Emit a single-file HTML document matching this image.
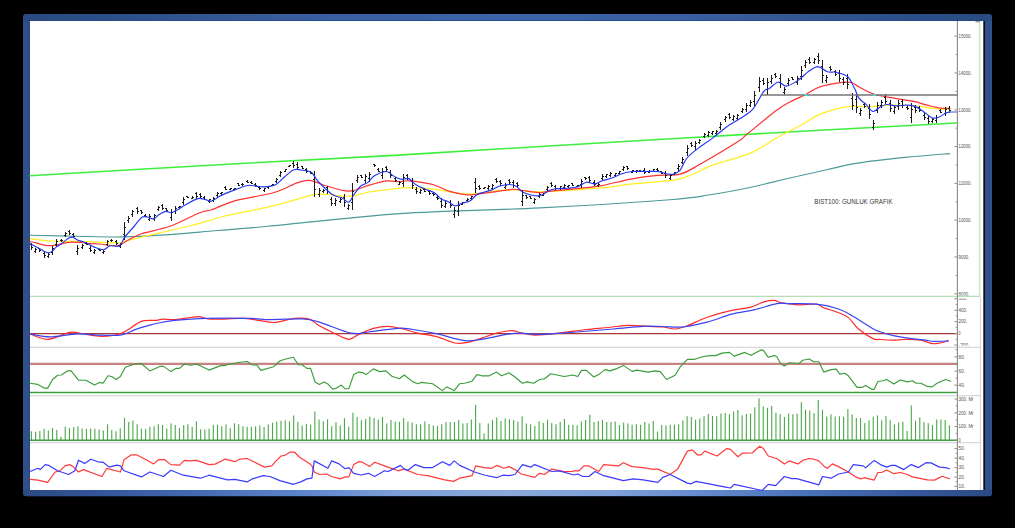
<!DOCTYPE html><html><head><meta charset="utf-8"><style>html,body{margin:0;padding:0;background:#000;width:1015px;height:528px;overflow:hidden}svg{display:block}text{font-family:"Liberation Sans",sans-serif}</style></head><body>
<svg width="1015" height="528" viewBox="0 0 1015 528">
<defs>
<linearGradient id="gt" gradientUnits="userSpaceOnUse" x1="23" x2="992" y1="0" y2="0"><stop offset="0" stop-color="#2b4a82"/><stop offset="0.08" stop-color="#2c4e86"/><stop offset="0.286" stop-color="#385e9e"/><stop offset="0.5" stop-color="#3d64a8"/><stop offset="0.714" stop-color="#385e9e"/><stop offset="0.92" stop-color="#2c4e86"/><stop offset="1" stop-color="#2b4a82"/></linearGradient>
<linearGradient id="gb" gradientUnits="userSpaceOnUse" x1="23" x2="992" y1="0" y2="0"><stop offset="0" stop-color="#2b4a82"/><stop offset="0.08" stop-color="#34569a"/><stop offset="0.183" stop-color="#446cb4"/><stop offset="0.286" stop-color="#5c86cc"/><stop offset="0.39" stop-color="#7ea0d8"/><stop offset="0.5" stop-color="#8aa8da"/><stop offset="0.61" stop-color="#7ea0d8"/><stop offset="0.714" stop-color="#6088cc"/><stop offset="0.817" stop-color="#4670b8"/><stop offset="0.92" stop-color="#36589a"/><stop offset="1" stop-color="#2b4a82"/></linearGradient>
</defs>
<clipPath id="fr"><rect x="23" y="14" width="969" height="482.3" rx="3.5"/></clipPath>
<rect x="23" y="14" width="969" height="482.3" rx="3.5" fill="#2f5088"/>
<g clip-path="url(#fr)"><rect x="23" y="14" width="969" height="7" fill="url(#gt)"/><rect x="23" y="489.8" width="969" height="6.5" fill="url(#gb)"/></g>
<rect x="29" y="20" width="956" height="1" fill="#24468a" opacity="0.8"/>
<rect x="29" y="21" width="1" height="469" fill="#24468a" opacity="0.8"/>
<rect x="30" y="21" width="953.8" height="469" fill="#fff"/>
<rect x="983.4" y="21" width="1.4" height="469" fill="#000"/>
<line x1="30" y1="296.4" x2="980" y2="296.4" stroke="#b4e0b4" stroke-width="1.2"/>
<line x1="979.7" y1="21" x2="979.7" y2="296.4" stroke="#c4eac4" stroke-width="1.5"/>
<rect x="975.5" y="21" width="4.5" height="1.3" fill="#999"/>
<line x1="30" y1="347.4" x2="980.4" y2="347.4" stroke="#d8d8d8" stroke-width="1.2"/>
<line x1="30" y1="395.6" x2="980.4" y2="395.6" stroke="#d8d8d8" stroke-width="1.2"/>
<line x1="30" y1="442.6" x2="980.4" y2="442.6" stroke="#d8d8d8" stroke-width="1.2"/>
<line x1="980.4" y1="297" x2="980.4" y2="490" stroke="#d8d8d8" stroke-width="1.2"/>
<line x1="957.4" y1="21" x2="957.4" y2="490" stroke="#888" stroke-width="1.1"/>
<polyline points="30.0,175.7 140.0,169.3 250.0,163.0 390.0,155.6 540.0,146.5 680.0,138.2 820.0,130.2 956.8,123.0" fill="none" stroke="#3cf03c" stroke-width="1.6" stroke-linejoin="round" stroke-linecap="round" />
<path d="M30.4,235.3C37.9,235.5 59.9,235.9 75.3,236.2C90.7,236.5 106.8,237.2 122.6,236.9C138.4,236.6 154.1,235.7 169.9,234.6C185.7,233.5 200.8,231.9 217.2,230.5C233.5,229.1 237.5,229.1 268.0,226.3C298.5,223.5 354.7,216.7 400.0,213.6C445.3,210.5 495.0,210.2 540.0,207.9C585.0,205.6 641.7,201.9 670.0,199.7C698.3,197.5 696.5,196.9 710.0,194.8C723.5,192.7 737.7,190.0 751.0,187.2C764.3,184.4 777.5,180.9 790.0,178.0C802.5,175.1 814.8,172.5 826.0,170.0C837.2,167.5 844.4,165.2 857.5,163.1C870.6,161.0 889.5,159.0 904.9,157.4C920.3,155.8 942.2,154.2 949.7,153.6" fill="none" stroke="#4d9a9a" stroke-width="1.15" stroke-linecap="round"/>
<path d="M30.4,238.6C33.9,239.0 42.2,240.5 51.6,241.0C61.0,241.5 76.0,241.4 87.1,241.7C98.1,242.0 111.2,243.0 117.9,242.8C124.6,242.6 122.6,241.6 127.3,240.5C132.0,239.4 135.6,238.5 146.2,236.0C156.8,233.5 177.9,228.8 191.1,225.5C204.3,222.2 213.7,218.8 225.2,216.0C236.7,213.2 250.2,211.0 260.0,208.8C269.8,206.7 275.2,205.4 284.1,203.1C293.0,200.8 306.0,196.3 313.1,194.9C320.2,193.5 320.7,194.3 326.7,194.5C332.7,194.7 341.8,196.6 348.9,196.2C356.0,195.8 362.4,193.2 369.3,192.0C376.2,190.8 383.1,190.0 390.0,189.3C396.9,188.6 402.6,187.5 410.5,187.6C418.4,187.7 429.8,188.8 437.7,189.7C445.6,190.6 451.9,192.4 458.2,193.1C464.4,193.8 466.7,194.5 475.2,193.9C483.7,193.3 500.2,190.1 509.3,189.7C518.4,189.3 523.7,191.3 530.0,191.6C536.3,191.9 535.6,192.2 547.0,191.6C558.4,191.0 584.0,189.5 598.2,188.2C612.4,186.9 618.7,185.5 632.3,183.9C645.9,182.3 666.6,181.9 680.0,178.8C693.4,175.7 700.7,169.4 712.6,165.1C724.5,160.8 741.1,157.0 751.2,152.8C761.3,148.6 766.6,143.6 773.0,140.0C779.4,136.4 784.8,133.4 789.3,131.0C793.8,128.6 794.4,128.7 800.0,125.7C805.6,122.7 814.4,116.4 822.7,113.2C831.0,110.0 842.4,107.5 850.0,106.4C857.6,105.3 861.4,107.0 868.2,106.8C875.0,106.6 883.3,105.3 890.9,105.2C898.5,105.1 906.0,105.3 913.6,105.9C921.2,106.5 930.3,108.0 936.4,108.6C942.5,109.2 947.7,109.2 950.0,109.3" fill="none" stroke="#ffee22" stroke-width="1.25" stroke-linecap="round"/>
<path d="M30.1,241.5C31.2,241.8 34.3,242.4 36.9,243.1C39.5,243.8 42.8,245.0 45.7,245.4C48.7,245.8 51.6,245.7 54.6,245.4C57.6,245.1 60.8,244.0 63.5,243.4C66.2,242.8 67.6,242.2 70.6,242.1C73.5,241.9 78.3,242.3 81.2,242.5C84.1,242.7 85.0,243.2 88.0,243.5C91.0,243.8 93.9,243.6 98.9,244.0C103.9,244.4 113.2,246.3 117.9,245.7C122.6,245.1 123.4,242.5 127.3,240.5C131.2,238.5 134.4,236.2 141.5,233.8C148.6,231.4 160.2,229.8 169.9,226.3C179.6,222.8 192.8,215.5 199.7,212.7C206.6,209.9 205.9,211.6 211.6,209.7C217.3,207.8 227.3,203.1 233.7,201.1C240.1,199.1 243.0,199.1 250.0,197.6C257.0,196.1 267.7,194.5 275.6,192.0C283.6,189.5 292.0,184.5 297.7,182.6C303.4,180.7 304.9,179.8 309.7,180.4C314.5,181.0 320.2,184.2 326.7,186.0C333.2,187.8 341.8,191.2 348.9,191.1C356.0,191.0 363.1,186.9 369.3,185.2C375.6,183.5 381.3,181.5 386.4,180.9C391.5,180.3 396.3,181.8 400.0,181.8C403.7,181.8 403.3,180.4 408.7,180.8C414.1,181.2 425.8,182.7 432.6,184.5C439.4,186.3 444.0,189.7 449.7,191.4C455.4,193.1 461.9,194.4 466.7,194.8C471.5,195.2 474.3,194.3 478.6,193.9C482.9,193.5 486.6,193.0 492.3,192.2C498.0,191.4 507.6,189.6 512.7,189.3C517.8,189.0 518.4,189.9 522.9,190.5C527.4,191.1 536.0,192.5 540.0,192.7C544.0,192.9 540.1,192.3 547.0,191.6C553.9,190.8 572.0,189.2 581.1,188.2C590.2,187.2 593.1,187.2 601.6,185.6C610.1,184.0 622.9,180.5 632.3,178.8C641.7,177.1 649.8,176.2 657.8,175.4C665.8,174.6 673.0,176.0 680.0,174.2C687.0,172.3 690.3,169.8 700.0,164.3C709.7,158.8 730.6,146.3 738.4,141.3C746.2,136.3 740.4,139.5 746.7,134.4C753.0,129.3 769.1,116.0 776.3,110.6C783.5,105.2 785.1,104.7 790.0,102.0C794.9,99.3 801.2,96.9 805.9,94.5C810.6,92.1 813.5,89.3 818.2,87.5C822.9,85.7 829.6,84.5 834.1,83.6C838.6,82.7 842.5,82.3 845.5,82.2C848.5,82.1 850.0,82.0 852.3,82.8C854.6,83.6 855.3,85.0 859.1,87.0C862.9,89.0 868.9,92.6 875.0,94.5C881.1,96.4 889.1,97.2 895.5,98.4C901.9,99.6 908.3,100.3 913.6,101.4C918.9,102.5 922.8,104.1 927.3,105.2C931.8,106.3 937.1,107.7 940.9,108.2C944.7,108.7 948.5,108.2 950.0,108.2" fill="none" stroke="#ff3030" stroke-width="1.2" stroke-linecap="round"/>
<path d="M31.50,243.0V250.0M30.00,244.5H31.50M31.50,247.5H33.00M35.50,248.0V253.0M34.00,251.5H35.50M35.50,249.5H37.00M39.50,248.0V252.0M38.00,248.5H39.50M39.50,250.5H41.00M44.50,251.0V258.0M43.00,253.5H44.50M44.50,255.5H46.00M48.50,253.0V258.0M47.00,256.5H48.50M48.50,254.5H50.00M52.50,246.0V255.0M51.00,252.5H52.50M52.50,248.5H54.00M56.50,239.0V247.0M55.00,244.5H56.50M56.50,241.5H58.00M61.50,239.0V242.0M60.00,240.5H61.50M61.50,240.5H63.00M65.50,232.0V237.0M64.00,235.5H65.50M65.50,233.5H67.00M69.50,230.0V235.0M68.00,231.5H69.50M69.50,233.5H71.00M73.50,233.0V238.0M72.00,234.5H73.50M73.50,236.5H75.00M77.50,245.0V255.0M76.00,251.5H77.50M77.50,248.5H79.00M82.50,244.0V249.0M81.00,247.5H82.50M82.50,245.5H84.00M86.50,242.0V245.0M85.00,243.5H86.50M86.50,244.5H88.00M90.50,246.0V252.0M89.00,248.5H90.50M90.50,250.5H92.00M94.50,249.0V254.0M93.00,252.5H94.50M94.50,250.5H96.00M99.50,249.0V251.0M98.00,249.5H99.50M99.50,250.5H101.00M103.50,250.0V254.0M102.00,252.5H103.50M103.50,251.5H105.00M107.50,240.0V246.0M106.00,244.5H107.50M107.50,241.5H109.00M111.50,239.0V242.0M110.00,240.5H111.50M111.50,240.5H113.00M116.50,240.0V245.0M115.00,241.5H116.50M116.50,243.5H118.00M120.50,243.0V248.0M119.00,246.5H120.50M120.50,244.5H122.00M124.50,222.0V240.0M123.00,234.5H124.50M124.50,227.5H126.00M128.50,216.0V223.0M127.00,220.5H128.50M128.50,218.5H130.00M132.50,210.0V217.0M131.00,214.5H132.50M132.50,211.5H134.00M137.50,207.0V214.0M136.00,208.5H137.50M137.50,211.5H139.00M141.50,210.0V214.0M140.00,210.5H141.50M141.50,212.5H143.00M145.50,214.0V217.0M144.00,215.5H145.50M145.50,216.5H147.00M149.50,214.0V221.0M148.00,219.5H149.50M149.50,216.5H151.00M154.50,214.0V221.0M153.00,218.5H154.50M154.50,215.5H156.00M158.50,206.0V211.0M157.00,209.5H158.50M158.50,207.5H160.00M162.50,204.0V210.0M161.00,205.5H162.50M162.50,208.5H164.00M166.50,208.0V211.0M165.00,208.5H166.50M166.50,210.5H168.00M171.50,209.0V221.0M170.00,217.5H171.50M171.50,212.5H173.00M175.50,206.0V214.0M174.00,211.5H175.50M175.50,208.5H177.00M179.50,206.0V208.0M178.00,207.5H179.50M179.50,206.5H181.00M183.50,197.0V205.0M182.00,202.5H183.50M183.50,199.5H185.00M187.50,196.0V198.0M186.00,196.5H187.50M187.50,197.5H189.00M192.50,196.0V199.0M191.00,198.5H192.50M192.50,197.5H194.00M196.50,192.0V199.0M195.00,193.5H196.50M196.50,196.5H198.00M200.50,193.0V198.0M199.00,194.5H200.50M200.50,196.5H202.00M204.50,196.0V200.0M203.00,197.5H204.50M204.50,199.5H206.00M209.50,199.0V203.0M208.00,201.5H209.50M209.50,199.5H211.00M213.50,197.0V202.0M212.00,200.5H213.50M213.50,198.5H215.00M217.50,192.0V198.0M216.00,195.5H217.50M217.50,193.5H219.00M221.50,192.0V195.0M220.00,193.5H221.50M221.50,192.5H223.00M225.50,186.0V190.0M224.00,187.5H225.50M225.50,189.5H227.00M230.50,188.0V190.0M229.00,189.5H230.50M230.50,188.5H232.00M234.50,188.0V190.0M233.00,189.5H234.50M234.50,188.5H236.00M238.50,183.0V186.0M237.00,183.5H238.50M238.50,185.5H240.00M242.50,183.0V186.0M241.00,184.5H242.50M242.50,184.5H244.00M247.50,180.0V183.0M246.00,181.5H247.50M247.50,182.5H249.00M251.50,181.0V184.0M250.00,182.5H251.50M251.50,183.5H253.00M255.50,183.0V187.0M254.00,184.5H255.50M255.50,185.5H257.00M259.50,186.0V190.0M258.00,187.5H259.50M259.50,188.5H261.00M264.50,188.0V192.0M263.00,190.5H264.50M264.50,188.5H266.00M268.50,186.0V189.0M267.00,187.5H268.50M268.50,186.5H270.00M272.50,184.0V186.0M271.00,185.5H272.50M272.50,184.5H274.00M276.50,178.0V183.0M275.00,181.5H276.50M276.50,179.5H278.00M280.50,171.0V177.0M279.00,175.5H280.50M280.50,172.5H282.00M285.50,169.0V172.0M284.00,171.5H285.50M285.50,169.5H287.00M289.50,165.0V167.0M288.00,166.5H289.50M289.50,165.5H291.00M293.50,161.0V168.0M292.00,163.5H293.50M293.50,165.5H295.00M297.50,162.0V170.0M296.00,164.5H297.50M297.50,167.5H299.00M302.50,166.0V169.0M301.00,166.5H302.50M302.50,168.5H304.00M306.50,168.0V173.0M305.00,169.5H306.50M306.50,171.5H308.00M310.50,171.0V174.0M309.00,171.5H310.50M310.50,173.5H312.00M314.50,171.0V197.0M313.00,179.5H314.50M314.50,189.5H316.00M319.50,188.0V197.0M318.00,194.5H319.50M319.50,190.5H321.00M323.50,189.0V193.0M322.00,191.5H323.50M323.50,190.5H325.00M327.50,186.0V194.0M326.00,187.5H327.50M327.50,191.5H329.00M331.50,197.0V206.0M330.00,199.5H331.50M331.50,203.5H333.00M335.50,198.0V206.0M334.00,203.5H335.50M335.50,200.5H337.00M340.50,198.0V203.0M339.00,201.5H340.50M340.50,199.5H342.00M344.50,194.0V207.0M343.00,197.5H344.50M344.50,202.5H346.00M348.50,204.0V210.0M347.00,208.5H348.50M348.50,205.5H350.00M352.50,183.0V210.0M351.00,202.5H352.50M352.50,191.5H354.00M357.50,175.0V183.0M356.00,180.5H357.50M357.50,177.5H359.00M361.50,175.0V178.0M360.00,175.5H361.50M361.50,177.5H363.00M365.50,174.0V183.0M364.00,180.5H365.50M365.50,176.5H367.00M369.50,172.0V182.0M368.00,178.5H369.50M369.50,174.5H371.00M374.50,164.0V167.0M373.00,164.5H374.50M374.50,165.5H376.00M378.50,168.0V172.0M377.00,169.5H378.50M378.50,171.5H380.00M382.50,168.0V179.0M381.00,175.5H382.50M382.50,171.5H384.00M386.50,166.0V171.0M385.00,167.5H386.50M386.50,169.5H388.00M390.50,170.0V178.0M389.00,172.5H390.50M390.50,175.5H392.00M395.50,177.0V182.0M394.00,178.5H395.50M395.50,180.5H397.00M399.50,181.0V185.0M398.00,184.5H399.50M399.50,182.5H401.00M403.50,174.0V187.0M402.00,183.5H403.50M403.50,177.5H405.00M407.50,174.0V180.0M406.00,175.5H407.50M407.50,178.5H409.00M412.50,178.0V189.0M411.00,181.5H412.50M412.50,185.5H414.00M416.50,187.0V194.0M415.00,189.5H416.50M416.50,191.5H418.00M420.50,189.0V194.0M419.00,192.5H420.50M420.50,190.5H422.00M424.50,188.0V192.0M423.00,189.5H424.50M424.50,191.5H426.00M429.50,190.0V195.0M428.00,191.5H429.50M429.50,193.5H431.00M433.50,192.0V196.0M432.00,193.5H433.50M433.50,194.5H435.00M437.50,196.0V200.0M436.00,197.5H437.50M437.50,198.5H439.00M441.50,198.0V208.0M440.00,201.5H441.50M441.50,205.5H443.00M445.50,201.0V208.0M444.00,206.5H445.50M445.50,203.5H447.00M450.50,200.0V208.0M449.00,202.5H450.50M450.50,205.5H452.00M454.50,207.0V218.0M453.00,214.5H454.50M454.50,210.5H456.00M458.50,201.0V216.0M457.00,211.5H458.50M458.50,205.5H460.00M462.50,202.0V205.0M461.00,204.5H462.50M462.50,202.5H464.00M467.50,198.0V202.0M466.00,200.5H467.50M467.50,199.5H469.00M471.50,196.0V200.0M470.00,198.5H471.50M471.50,196.5H473.00M475.50,178.0V193.0M474.00,182.5H475.50M475.50,188.5H477.00M479.50,185.0V190.0M478.00,186.5H479.50M479.50,188.5H481.00M484.50,187.0V189.0M483.00,188.5H484.50M484.50,187.5H486.00M488.50,185.0V190.0M487.00,188.5H488.50M488.50,186.5H490.00M492.50,184.0V190.0M491.00,188.5H492.50M492.50,185.5H494.00M496.50,178.0V183.0M495.00,179.5H496.50M496.50,181.5H498.00M500.50,180.0V186.0M499.00,181.5H500.50M500.50,183.5H502.00M505.50,183.0V189.0M504.00,187.5H505.50M505.50,185.5H507.00M509.50,179.0V184.0M508.00,180.5H509.50M509.50,182.5H511.00M513.50,180.0V188.0M512.00,182.5H513.50M513.50,185.5H515.00M517.50,182.0V188.0M516.00,183.5H517.50M517.50,185.5H519.00M522.50,190.0V206.0M521.00,201.5H522.50M522.50,195.5H524.00M526.50,195.0V199.0M525.00,195.5H526.50M526.50,197.5H528.00M530.50,196.0V199.0M529.00,196.5H530.50M530.50,198.5H532.00M534.50,198.0V204.0M533.00,202.5H534.50M534.50,199.5H536.00M539.50,193.0V198.0M538.00,196.5H539.50M539.50,194.5H541.00M543.50,193.0V196.0M542.00,195.5H543.50M543.50,193.5H545.00M547.50,186.0V191.0M546.00,189.5H547.50M547.50,187.5H549.00M551.50,182.0V187.0M550.00,183.5H551.50M551.50,185.5H553.00M555.50,185.0V190.0M554.00,186.5H555.50M555.50,188.5H557.00M560.50,186.0V190.0M559.00,188.5H560.50M560.50,186.5H562.00M564.50,184.0V189.0M563.00,187.5H564.50M564.50,185.5H566.00M568.50,185.0V188.0M567.00,186.5H568.50M568.50,185.5H570.00M572.50,183.0V186.0M571.00,183.5H572.50M572.50,185.5H574.00M577.50,185.0V187.0M576.00,186.5H577.50M577.50,185.5H579.00M581.50,179.0V188.0M580.00,184.5H581.50M581.50,181.5H583.00M585.50,177.0V180.0M584.00,177.5H585.50M585.50,178.5H587.00M589.50,176.0V182.0M588.00,177.5H589.50M589.50,180.5H591.00M594.50,180.0V186.0M593.00,182.5H594.50M594.50,184.5H596.00M598.50,183.0V187.0M597.00,185.5H598.50M598.50,184.5H600.00M602.50,174.0V180.0M601.00,178.5H602.50M602.50,176.5H604.00M606.50,174.0V178.0M605.00,176.5H606.50M606.50,174.5H608.00M610.50,172.0V177.0M609.00,175.5H610.50M610.50,173.5H612.00M615.50,173.0V176.0M614.00,175.5H615.50M615.50,173.5H617.00M619.50,171.0V174.0M618.00,173.5H619.50M619.50,171.5H621.00M623.50,166.0V171.0M622.00,169.5H623.50M623.50,167.5H625.00M627.50,166.0V170.0M626.00,166.5H627.50M627.50,168.5H629.00M632.50,170.0V173.0M631.00,172.5H632.50M632.50,170.5H634.00M636.50,170.0V173.0M635.00,171.5H636.50M636.50,170.5H638.00M640.50,170.0V172.0M639.00,170.5H640.50M640.50,171.5H642.00M644.50,168.0V174.0M643.00,170.5H644.50M644.50,172.5H646.00M649.50,170.0V173.0M648.00,172.5H649.50M649.50,171.5H651.00M653.50,169.0V172.0M652.00,171.5H653.50M653.50,169.5H655.00M657.50,168.0V172.0M656.00,169.5H657.50M657.50,170.5H659.00M661.50,171.0V174.0M660.00,171.5H661.50M661.50,173.5H663.00M665.50,171.0V178.0M664.00,173.5H665.50M665.50,175.5H667.00M670.50,174.0V180.0M669.00,178.5H670.50M670.50,175.5H672.00M674.50,172.0V175.0M673.00,174.5H674.50M674.50,172.5H676.00M678.50,164.0V171.0M677.00,168.5H678.50M678.50,166.5H680.00M682.50,157.0V164.0M681.00,162.5H682.50M682.50,159.5H684.00M687.50,145.0V156.0M686.00,152.5H687.50M687.50,148.5H689.00M691.50,142.0V147.0M690.00,143.5H691.50M691.50,145.5H693.00M695.50,141.0V150.0M694.00,146.5H695.50M695.50,143.5H697.00M699.50,139.0V144.0M698.00,142.5H699.50M699.50,140.5H701.00M704.50,133.0V138.0M703.00,136.5H704.50M704.50,134.5H706.00M708.50,131.0V137.0M707.00,135.5H708.50M708.50,132.5H710.00M712.50,131.0V135.0M711.00,133.5H712.50M712.50,131.5H714.00M716.50,130.0V135.0M715.00,133.5H716.50M716.50,131.5H718.00M720.50,122.0V130.0M719.00,127.5H720.50M720.50,124.5H722.00M725.50,116.0V122.0M724.00,119.5H725.50M725.50,117.5H727.00M729.50,113.0V119.0M728.00,114.5H729.50M729.50,117.5H731.00M733.50,115.0V121.0M732.00,119.5H733.50M733.50,116.5H735.00M737.50,114.0V120.0M736.00,118.5H737.50M737.50,115.5H739.00M742.50,108.0V113.0M741.00,111.5H742.50M742.50,109.5H744.00M746.50,103.0V112.0M745.00,109.5H746.50M746.50,105.5H748.00M750.50,100.0V107.0M749.00,105.5H750.50M750.50,102.5H752.00M754.50,91.0V106.0M753.00,101.5H754.50M754.50,95.5H756.00M759.50,77.0V92.0M758.00,87.5H759.50M759.50,81.5H761.00M763.50,78.0V85.0M762.00,80.5H763.50M763.50,83.5H765.00M767.50,78.0V95.0M766.00,89.5H767.50M767.50,82.5H769.00M771.50,75.0V84.0M770.00,81.5H771.50M771.50,78.5H773.00M775.50,73.0V78.0M774.00,74.5H775.50M775.50,76.5H777.00M780.50,74.0V88.0M779.00,78.5H780.50M780.50,83.5H782.00M784.50,87.0V95.0M783.00,92.5H784.50M784.50,89.5H786.00M788.50,78.0V86.0M787.00,83.5H788.50M788.50,80.5H790.00M792.50,77.0V80.0M791.00,77.5H792.50M792.50,79.5H794.00M797.50,76.0V85.0M796.00,82.5H797.50M797.50,78.5H799.00M801.50,66.0V80.0M800.00,76.5H801.50M801.50,70.5H803.00M805.50,60.0V68.0M804.00,65.5H805.50M805.50,62.5H807.00M809.50,57.0V64.0M808.00,59.5H809.50M809.50,62.5H811.00M814.50,58.0V64.0M813.00,62.5H814.50M814.50,59.5H816.00M818.50,53.0V64.0M817.00,56.5H818.50M818.50,60.5H820.00M822.50,60.0V83.0M821.00,66.5H822.50M822.50,75.5H824.00M826.50,75.0V83.0M825.00,80.5H826.50M826.50,77.5H828.00M830.50,66.0V71.0M829.00,67.5H830.50M830.50,69.5H832.00M835.50,70.0V76.0M834.00,71.5H835.50M835.50,74.5H837.00M839.50,70.0V82.0M838.00,73.5H839.50M839.50,78.5H841.00M843.50,77.0V85.0M842.00,79.5H843.50M843.50,82.5H845.00M847.50,74.0V89.0M846.00,78.5H847.50M847.50,84.5H849.00M852.50,93.0V110.0M851.00,98.5H852.50M852.50,105.5H854.00M856.50,94.0V113.0M855.00,99.5H856.50M856.50,107.5H858.00M860.50,108.0V116.0M859.00,113.5H860.50M860.50,110.5H862.00M864.50,103.0V108.0M863.00,104.5H864.50M864.50,106.5H866.00M869.50,104.0V119.0M868.00,108.5H869.50M869.50,114.5H871.00M873.50,120.0V130.0M872.00,127.5H873.50M873.50,123.5H875.00M877.50,102.0V113.0M876.00,110.5H877.50M877.50,105.5H879.00M881.50,100.0V108.0M880.00,105.5H881.50M881.50,102.5H883.00M885.50,94.0V104.0M884.00,97.5H885.50M885.50,101.5H887.00M890.50,100.0V112.0M889.00,103.5H890.50M890.50,108.5H892.00M894.50,105.0V114.0M893.00,111.5H894.50M894.50,107.5H896.00M898.50,100.0V110.0M897.00,106.5H898.50M898.50,103.5H900.00M902.50,99.0V108.0M901.00,101.5H902.50M902.50,105.5H904.00M907.50,106.0V110.0M906.00,107.5H907.50M907.50,108.5H909.00M911.50,103.0V123.0M910.00,117.5H911.50M911.50,109.5H913.00M915.50,105.0V113.0M914.00,107.5H915.50M915.50,110.5H917.00M919.50,106.0V112.0M918.00,107.5H919.50M919.50,110.5H921.00M924.50,113.0V120.0M923.00,115.5H924.50M924.50,117.5H926.00M928.50,116.0V124.0M927.00,118.5H928.50M928.50,121.5H930.00M932.50,118.0V123.0M931.00,121.5H932.50M932.50,119.5H934.00M936.50,115.0V123.0M935.00,120.5H936.50M936.50,117.5H938.00M940.50,109.0V113.0M939.00,110.5H940.50M940.50,112.5H942.00M945.50,107.0V116.0M944.00,113.5H945.50M945.50,109.5H947.00M949.50,106.0V113.0M948.00,108.5H949.50M949.50,110.5H951.00" stroke="#1a1a1a" stroke-width="1" fill="none"/>
<path d="M30.1,243.7C30.7,244.0 32.3,244.9 33.9,245.7C35.5,246.5 38.1,247.8 39.8,248.7C41.5,249.6 42.6,250.6 44.0,251.3C45.4,252.0 46.8,252.6 48.1,252.7C49.4,252.8 50.2,252.6 51.6,251.6C53.0,250.6 54.8,248.2 56.4,246.9C58.0,245.6 59.5,245.1 61.1,244.0C62.7,242.9 64.4,241.1 65.8,240.1C67.2,239.1 68.2,238.3 69.4,237.8C70.6,237.3 71.7,236.9 72.9,237.2C74.1,237.5 75.4,238.9 76.5,239.5C77.6,240.1 78.1,240.2 79.4,240.7C80.7,241.1 82.7,241.7 84.1,242.2C85.5,242.7 86.3,242.9 88.0,243.7C89.7,244.5 91.7,246.1 94.3,247.1C96.9,248.1 100.9,249.9 103.6,249.7C106.2,249.5 107.5,246.5 110.2,245.8C112.9,245.2 117.1,247.2 119.5,245.8C121.9,244.4 122.4,240.3 124.8,237.1C127.2,233.9 131.1,229.8 134.0,226.5C136.9,223.2 139.6,218.7 142.0,217.2C144.4,215.7 146.6,217.0 148.5,217.3C150.4,217.6 151.9,219.4 153.6,219.0C155.3,218.6 156.8,216.1 158.8,214.8C160.8,213.5 163.5,211.8 165.6,211.4C167.7,211.1 169.2,213.1 171.5,212.7C173.8,212.3 176.8,210.2 179.2,208.8C181.6,207.4 182.9,206.2 186.0,204.5C189.1,202.8 194.9,199.4 198.0,198.6C201.1,197.8 202.5,199.0 204.8,199.4C207.1,199.8 209.1,201.7 211.6,201.1C214.1,200.5 216.7,197.7 220.1,196.0C223.5,194.3 227.4,192.7 232.0,190.9C236.6,189.2 243.4,186.3 247.4,185.5C251.4,184.7 253.2,185.9 255.9,186.1C258.6,186.3 260.3,187.1 263.6,186.9C266.9,186.7 272.0,186.4 275.6,184.7C279.2,183.0 281.9,179.0 285.0,176.5C288.1,174.0 291.2,170.9 293.9,169.8C296.6,168.7 298.2,169.7 301.0,170.0C303.8,170.3 308.3,171.0 310.5,171.9C312.7,172.8 312.7,173.8 314.0,175.4C315.3,177.0 315.2,178.4 318.2,181.5C321.2,184.6 327.8,191.4 331.8,194.2C335.8,196.9 339.1,196.7 342.0,198.0C344.9,199.3 346.9,202.8 348.9,202.2C350.9,201.6 352.0,197.2 354.0,194.5C356.0,191.8 358.5,188.0 360.8,186.0C363.1,184.0 365.3,184.3 367.6,182.6C369.9,180.9 371.3,177.7 374.4,175.8C377.5,174.0 383.3,171.5 386.4,171.5C389.5,171.5 391.5,174.8 393.2,175.8C394.9,176.8 395.4,177.1 396.8,177.7C398.2,178.3 399.9,179.2 401.9,179.4C403.9,179.6 406.4,177.8 408.7,178.6C411.0,179.4 413.0,182.8 415.6,184.5C418.2,186.2 421.0,187.4 424.1,188.8C427.2,190.2 431.5,191.0 434.3,192.7C437.1,194.4 438.8,197.5 441.1,199.0C443.4,200.5 445.7,200.5 448.0,201.6C450.3,202.7 452.5,205.5 454.8,205.8C457.1,206.1 459.1,204.2 461.6,203.3C464.2,202.5 467.6,202.1 470.1,200.7C472.7,199.3 474.6,196.2 476.9,194.8C479.2,193.4 481.1,193.0 483.7,192.2C486.3,191.3 489.7,190.7 492.3,189.7C494.9,188.7 496.3,187.1 499.1,186.2C501.9,185.3 506.5,184.5 509.3,184.5C512.1,184.5 513.8,184.9 516.1,186.2C518.4,187.5 519.7,190.6 522.9,192.2C526.1,193.8 531.9,195.3 535.1,195.8C538.3,196.3 539.6,195.8 541.9,195.0C544.2,194.2 546.4,191.8 548.7,190.7C551.0,189.6 552.5,189.1 555.6,188.7C558.7,188.3 563.8,188.5 567.5,188.2C571.2,187.9 574.6,187.8 577.7,186.8C580.8,185.8 583.4,182.7 586.2,182.2C589.1,181.7 592.2,184.1 594.8,183.9C597.4,183.7 598.8,182.0 601.6,181.0C604.4,180.0 608.4,179.2 611.8,178.0C615.2,176.8 618.6,174.8 622.0,173.7C625.4,172.6 628.3,171.9 632.3,171.5C636.3,171.1 641.6,171.5 645.9,171.5C650.1,171.5 654.4,171.1 657.8,171.5C661.2,171.9 663.8,173.2 666.4,173.7C669.0,174.1 670.9,174.8 673.2,174.2C675.5,173.6 677.7,173.0 680.0,170.3C682.3,167.6 683.9,161.7 687.0,158.0C690.1,154.3 694.1,151.4 698.4,148.1C702.7,144.8 707.9,141.7 712.6,138.1C717.3,134.5 722.5,129.9 726.8,126.8C731.1,123.7 733.9,122.5 738.2,119.7C742.5,116.9 748.1,114.4 752.4,109.7C756.7,105.0 761.0,94.8 763.8,91.3C766.6,87.8 767.0,89.9 769.4,88.4C771.8,86.9 775.1,82.6 778.0,82.2C780.9,81.8 783.2,86.4 786.5,86.1C789.8,85.8 794.0,83.0 797.8,80.5C801.6,78.0 805.7,73.4 809.1,71.1C812.5,68.8 815.2,66.5 818.2,66.6C821.2,66.7 824.3,70.8 827.3,71.8C830.3,72.8 833.0,71.5 836.4,72.3C839.8,73.1 844.7,74.1 847.7,76.8C850.7,79.5 852.6,84.6 854.5,88.2C856.4,91.8 857.2,95.8 859.1,98.4C861.0,101.1 863.6,101.9 865.9,104.1C868.2,106.3 870.4,110.8 872.7,111.4C875.0,112.0 877.2,108.7 879.5,107.5C881.8,106.3 883.7,104.8 886.4,104.5C889.1,104.2 892.5,105.8 895.5,105.9C898.5,106.0 901.5,105.2 904.5,105.2C907.5,105.2 910.6,105.0 913.6,105.9C916.6,106.9 919.7,108.9 922.7,110.9C925.7,112.9 929.1,116.6 931.8,117.7C934.4,118.8 936.3,118.0 938.6,117.3C940.9,116.5 943.6,114.1 945.5,113.2C947.4,112.3 949.2,112.2 950.0,112.0" fill="none" stroke="#2236f0" stroke-width="1.15" stroke-linecap="round"/>
<polyline points="950.0,112.0 957.0,112.0" fill="none" stroke="#8888dd" stroke-width="1.4" stroke-linejoin="round" stroke-linecap="round" />
<polyline points="761.0,95.1 957.0,95.1" fill="none" stroke="#777" stroke-width="1.5" stroke-linejoin="round" stroke-linecap="round" />
<rect x="804.5" y="94.2" width="3" height="1.8" fill="#40e0e0"/><rect x="873" y="94.2" width="3" height="1.8" fill="#40e0e0"/>
<text x="814.3" y="204.3" font-size="6.8" fill="#383838" textLength="78.3" lengthAdjust="spacingAndGlyphs">BIST100: GUNLUK GRAFIK</text>
<line x1="30" y1="333.6" x2="957" y2="333.6" stroke="#a83a3a" stroke-width="1.2"/>
<path d="M30.0,333.9C33.0,334.8 41.1,339.6 47.7,339.3C54.4,339.1 64.2,333.3 69.9,332.4C75.7,331.5 76.9,333.0 82.2,333.7C87.5,334.4 95.3,336.5 101.9,336.4C108.5,336.3 115.0,335.7 121.6,333.2C128.2,330.7 135.6,323.5 141.3,321.4C147.1,319.3 152.4,320.8 156.1,320.4C159.8,320.0 160.2,319.2 163.5,319.1C166.8,319.0 170.1,320.0 175.8,319.6C181.6,319.2 192.7,316.8 198.0,316.7C203.3,316.6 203.3,318.5 207.8,318.9C212.3,319.3 218.8,319.2 225.0,319.1C231.2,319.0 237.3,317.9 244.7,318.4C252.1,318.9 263.9,321.5 269.4,322.1C274.8,322.7 273.2,322.7 277.4,322.1C281.6,321.5 289.3,318.9 294.6,318.4C299.9,317.9 305.3,317.9 309.4,319.1C313.5,320.3 315.2,323.5 319.3,325.8C323.4,328.1 329.1,330.9 334.0,333.2C338.9,335.4 344.7,339.1 348.8,339.3C352.9,339.5 354.6,336.2 358.7,334.4C362.8,332.6 368.5,329.6 373.4,328.3C378.3,327.0 383.3,326.2 388.2,326.3C393.1,326.4 398.1,327.9 403.0,329.0C407.9,330.1 412.1,331.9 417.8,333.2C423.6,334.5 431.4,335.3 437.5,336.9C443.6,338.5 449.8,342.1 454.7,343.0C459.6,343.9 462.5,343.3 467.0,342.5C471.5,341.7 476.9,339.7 481.8,338.1C486.7,336.6 491.7,334.4 496.6,333.2C501.5,332.0 507.1,330.7 511.4,330.7C515.7,330.7 518.5,332.5 522.4,333.2C526.3,333.9 530.6,334.9 534.7,335.1C538.8,335.3 542.1,334.8 547.0,334.4C551.9,333.9 557.7,333.2 564.3,332.4C570.9,331.6 579.0,330.3 586.4,329.5C593.8,328.7 601.6,328.2 608.6,327.5C615.6,326.8 621.7,325.5 628.3,325.3C634.9,325.1 642.2,326.0 648.0,326.3C653.8,326.6 658.3,326.6 662.8,327.0C667.3,327.4 671.0,329.2 675.1,329.0C679.2,328.8 682.1,327.8 687.4,325.8C692.7,323.8 699.7,319.8 707.1,317.2C714.5,314.6 724.6,311.9 731.7,310.3C738.8,308.7 744.4,308.8 749.9,307.3C755.4,305.9 760.5,302.8 764.6,301.6C768.7,300.5 771.6,300.2 774.5,300.4C777.4,300.6 777.8,302.2 781.9,302.9C786.0,303.6 793.4,304.6 799.1,304.8C804.9,305.0 812.3,303.6 816.4,304.1C820.5,304.6 820.0,306.4 823.7,307.8C827.4,309.2 834.4,311.1 838.5,312.7C842.6,314.3 845.1,314.9 848.4,317.6C851.7,320.3 854.1,325.2 858.2,328.7C862.3,332.2 869.4,336.8 873.0,338.6C876.6,340.4 876.6,339.2 880.0,339.5C883.4,339.8 889.8,340.2 893.6,340.2C897.4,340.2 899.7,339.6 902.7,339.5C905.7,339.4 908.8,339.4 911.8,339.5C914.8,339.6 917.5,339.5 920.9,340.2C924.3,340.9 929.3,343.1 932.3,343.6C935.3,344.1 936.5,343.6 939.1,343.2C941.8,342.8 946.7,341.3 948.2,340.9" fill="none" stroke="#ff2a2a" stroke-width="1.2" stroke-linecap="round"/>
<path d="M30.0,333.9C33.4,334.4 42.3,336.9 50.2,336.9C58.1,336.9 68.7,334.2 77.3,333.9C85.9,333.6 94.5,334.9 101.9,335.1C109.3,335.3 115.4,336.0 121.6,334.9C127.8,333.8 131.4,330.5 138.8,328.3C146.2,326.1 154.8,323.2 165.9,321.6C177.0,320.0 191.3,318.9 205.3,318.4C219.3,317.9 238.9,318.2 249.7,318.4C260.5,318.6 261.3,319.5 270.0,319.6C278.7,319.7 293.8,318.5 302.0,318.9C310.2,319.3 311.1,319.7 319.3,322.1C327.5,324.5 343.1,331.6 351.3,333.2C359.5,334.8 360.7,332.8 368.5,332.0C376.3,331.2 390.7,328.7 398.1,328.3C405.5,327.9 406.3,328.6 412.9,329.5C419.5,330.4 428.9,332.0 437.5,333.9C446.1,335.8 457.2,339.7 464.6,340.6C472.0,341.5 474.8,340.3 481.8,339.3C488.8,338.3 500.1,335.4 506.5,334.4C512.9,333.4 514.5,333.2 520.0,333.2C525.5,333.2 530.2,334.6 539.6,334.4C549.0,334.2 564.3,332.9 576.6,332.0C588.9,331.1 602.4,329.9 613.5,329.0C624.6,328.1 634.9,326.7 643.1,326.3C651.3,325.9 656.2,326.4 662.8,326.5C669.4,326.6 675.1,327.7 682.5,327.0C689.9,326.3 698.9,324.2 707.1,322.1C715.3,320.0 723.8,316.3 731.7,314.2C739.7,312.1 747.3,311.5 754.8,309.7C762.3,307.9 771.1,304.6 776.9,303.6C782.6,302.6 782.7,303.5 789.3,303.6C795.9,303.7 808.2,303.2 816.4,304.1C824.6,305.0 832.4,306.9 838.5,309.0C844.6,311.1 847.5,313.1 853.3,316.4C859.0,319.7 868.5,326.1 873.0,328.7C877.5,331.3 876.6,330.6 880.0,331.8C883.4,333.0 888.3,334.6 893.6,335.7C898.9,336.8 906.5,337.9 911.8,338.6C917.1,339.4 921.7,339.7 925.5,340.2C929.3,340.7 930.7,341.3 934.5,341.4C938.3,341.5 945.9,341.0 948.2,340.9" fill="none" stroke="#3a44f4" stroke-width="1.2" stroke-linecap="round"/>
<line x1="30" y1="363.8" x2="957" y2="363.8" stroke="#c98282" stroke-width="2.2"/>
<line x1="30" y1="392.4" x2="957" y2="392.4" stroke="#3ea03e" stroke-width="1.5"/>
<polyline points="30.0,383.2 37.9,384.4 44.0,388.1 47.7,388.1 52.6,379.5 57.6,375.3 61.3,375.0 67.4,370.9 71.1,370.9 78.5,380.2 85.9,380.2 94.5,384.9 99.4,382.4 103.1,383.2 108.0,375.8 111.7,376.5 116.2,379.5 120.4,376.5 125.3,367.2 133.9,364.2 141.3,363.5 149.9,370.9 159.8,366.4 163.5,366.4 170.9,371.6 175.8,368.4 179.5,368.4 184.4,364.0 190.6,365.2 196.7,364.0 209.0,370.1 220.1,365.9 225.0,365.4 230.0,364.0 239.8,362.2 247.2,361.5 252.1,364.7 257.1,365.2 260.8,370.4 271.8,367.2 273.7,366.7 279.9,361.0 284.8,359.3 293.4,357.3 298.3,364.7 302.0,364.7 306.9,368.4 310.6,368.4 315.1,382.0 319.3,384.4 324.2,382.0 327.9,383.9 332.8,389.3 336.5,388.1 341.4,385.1 345.1,388.8 348.8,388.6 353.7,374.6 358.7,372.1 362.4,372.6 366.1,374.6 373.4,368.9 379.6,371.6 385.8,370.9 391.9,376.3 399.3,378.7 404.2,375.0 412.9,381.9 417.8,383.7 421.5,382.4 432.6,383.7 442.4,390.6 446.8,386.9 454.2,390.6 459.7,383.7 464.6,383.2 472.0,381.2 476.9,374.6 481.8,375.8 489.2,375.8 496.6,372.1 501.5,375.8 508.9,372.8 515.0,377.0 522.4,383.2 527.3,381.9 533.5,383.2 539.6,379.5 544.6,378.7 550.7,373.8 564.3,376.5 572.9,375.0 577.8,376.5 581.5,370.4 586.4,370.4 593.8,377.0 598.7,374.6 604.9,369.6 609.8,370.9 616.0,368.9 623.4,365.4 632.0,371.4 636.9,370.1 648.0,372.1 655.4,370.9 660.3,371.6 666.5,379.5 675.1,375.3 680.0,367.2 687.4,359.3 694.8,359.3 702.2,356.8 709.6,355.6 715.7,355.6 721.9,353.1 729.3,352.4 734.2,356.1 744.9,352.4 751.1,355.3 760.9,349.9 763.4,350.4 768.3,357.3 774.5,355.6 776.9,356.8 780.6,363.5 784.3,365.9 789.3,362.7 799.1,363.5 802.8,360.3 809.0,359.0 813.9,361.7 818.8,361.7 823.7,372.1 831.1,369.6 836.1,369.1 839.8,374.1 844.7,373.3 848.4,375.8 857.0,387.4 861.9,387.4 865.6,385.6 871.8,389.3 874.2,389.3 877.9,381.5 882.9,380.7 886.6,379.5 893.9,383.9 900.1,380.0 907.5,381.9 912.4,380.7 916.1,383.2 921.0,383.2 927.2,386.4 932.1,386.9 937.0,383.2 945.7,379.5 950.6,381.2" fill="none" stroke="#3a9c3a" stroke-width="1.15" stroke-linejoin="round" stroke-linecap="round" />
<path d="M31.40,440.2V431.2M35.63,440.2V431.7M39.86,440.2V430.9M44.09,440.2V428.7M48.32,440.2V430.4M52.55,440.2V427.9M56.78,440.2V430.1M61.01,440.2V436.8M65.24,440.2V426.7M69.47,440.2V427.9M73.70,440.2V427.1M77.93,440.2V426.2M82.16,440.2V428.4M86.40,440.2V429.1M90.63,440.2V428.7M94.86,440.2V428.7M99.09,440.2V429.6M103.32,440.2V430.4M107.55,440.2V424.2M111.78,440.2V429.9M116.01,440.2V431.2M120.24,440.2V428.2M124.47,440.2V417.8M128.70,440.2V422.0M132.93,440.2V420.4M137.16,440.2V424.2M141.39,440.2V428.7M145.62,440.2V428.7M149.85,440.2V426.7M154.08,440.2V426.2M158.31,440.2V424.2M162.54,440.2V424.9M166.77,440.2V428.4M171.00,440.2V423.4M175.23,440.2V424.9M179.46,440.2V427.9M183.69,440.2V424.9M187.92,440.2V424.2M192.16,440.2V426.7M196.39,440.2V421.2M200.62,440.2V429.2M204.85,440.2V429.5M209.08,440.2V428.7M213.31,440.2V424.8M217.54,440.2V424.8M221.77,440.2V426.2M226.00,440.2V424.5M230.23,440.2V427.9M234.46,440.2V423.3M238.69,440.2V424.2M242.92,440.2V426.2M247.15,440.2V426.7M251.38,440.2V426.7M255.61,440.2V426.2M259.84,440.2V425.4M264.07,440.2V427.0M268.30,440.2V424.2M272.53,440.2V422.8M276.76,440.2V421.7M280.99,440.2V420.7M285.22,440.2V420.3M289.45,440.2V421.2M293.68,440.2V415.6M297.92,440.2V422.0M302.15,440.2V425.4M306.38,440.2V423.7M310.61,440.2V424.8M314.84,440.2V411.6M319.07,440.2V419.5M323.30,440.2V421.2M327.53,440.2V419.2M331.76,440.2V426.2M335.99,440.2V422.3M340.22,440.2V425.4M344.45,440.2V418.2M348.68,440.2V426.7M352.91,440.2V412.8M357.14,440.2V417.0M361.37,440.2V420.3M365.60,440.2V418.9M369.83,440.2V416.6M374.06,440.2V417.9M378.29,440.2V419.4M382.52,440.2V417.1M386.75,440.2V423.4M390.98,440.2V420.1M395.21,440.2V421.4M399.44,440.2V421.8M403.68,440.2V418.1M407.91,440.2V421.4M412.14,440.2V422.6M416.37,440.2V424.3M420.60,440.2V424.3M424.83,440.2V421.4M429.06,440.2V423.9M433.29,440.2V425.5M437.52,440.2V426.0M441.75,440.2V424.3M445.98,440.2V422.1M450.21,440.2V422.1M454.44,440.2V422.1M458.67,440.2V420.1M462.90,440.2V423.4M467.13,440.2V423.1M471.36,440.2V419.4M475.59,440.2V404.7M479.82,440.2V423.1M484.05,440.2V433.5M488.28,440.2V423.4M492.51,440.2V420.1M496.74,440.2V417.6M500.97,440.2V420.9M505.20,440.2V418.4M509.44,440.2V419.3M513.67,440.2V420.1M517.90,440.2V421.4M522.13,440.2V416.2M526.36,440.2V423.4M530.59,440.2V424.3M534.82,440.2V426.0M539.05,440.2V421.3M543.28,440.2V423.1M547.51,440.2V419.8M551.74,440.2V423.1M555.97,440.2V424.3M560.20,440.2V422.1M564.43,440.2V418.9M568.66,440.2V424.8M572.89,440.2V424.8M577.12,440.2V425.5M581.35,440.2V421.4M585.58,440.2V420.1M589.81,440.2V414.7M594.04,440.2V422.1M598.27,440.2V420.9M602.50,440.2V420.1M606.73,440.2V422.1M610.96,440.2V422.1M615.20,440.2V421.4M619.43,440.2V425.1M623.66,440.2V422.6M627.89,440.2V423.4M632.12,440.2V424.8M636.35,440.2V424.3M640.58,440.2V424.8M644.81,440.2V422.1M649.04,440.2V423.4M653.27,440.2V420.9M657.50,440.2V431.5M661.73,440.2V425.1M665.96,440.2V425.5M670.19,440.2V424.8M674.42,440.2V424.8M678.65,440.2V424.3M682.88,440.2V420.4M687.11,440.2V416.2M691.34,440.2V417.1M695.57,440.2V419.8M699.80,440.2V418.4M704.03,440.2V416.2M708.26,440.2V413.9M712.49,440.2V415.9M716.72,440.2V416.2M720.96,440.2V413.4M725.19,440.2V413.1M729.42,440.2V414.2M733.65,440.2V411.4M737.88,440.2V410.0M742.11,440.2V415.4M746.34,440.2V413.9M750.57,440.2V413.4M754.80,440.2V407.2M759.03,440.2V398.3M763.26,440.2V406.4M767.49,440.2V407.7M771.72,440.2V406.0M775.95,440.2V412.7M780.18,440.2V413.9M784.41,440.2V417.1M788.64,440.2V413.4M792.87,440.2V414.2M797.10,440.2V413.4M801.33,440.2V402.2M805.56,440.2V409.7M809.79,440.2V410.4M814.02,440.2V413.1M818.25,440.2V400.0M822.48,440.2V409.7M826.72,440.2V416.4M830.95,440.2V414.2M835.18,440.2V416.4M839.41,440.2V416.2M843.64,440.2V416.7M847.87,440.2V409.2M852.10,440.2V414.6M856.33,440.2V418.1M860.56,440.2V417.9M864.79,440.2V422.9M869.02,440.2V420.3M873.25,440.2V416.8M877.48,440.2V415.6M881.71,440.2V420.3M885.94,440.2V416.0M890.17,440.2V420.3M894.40,440.2V424.5M898.63,440.2V422.6M902.86,440.2V421.8M907.09,440.2V430.9M911.32,440.2V405.4M915.55,440.2V420.8M919.78,440.2V417.2M924.01,440.2V422.1M928.24,440.2V423.2M932.48,440.2V424.9M936.71,440.2V419.5M940.94,440.2V419.5M945.17,440.2V419.9M949.40,440.2V425.2" stroke="#4aa84a" stroke-width="1.1" fill="none"/>
<line x1="30" y1="440.2" x2="957" y2="440.2" stroke="#3ea03e" stroke-width="1.5"/>
<polyline points="30.0,479.4 37.9,480.1 47.7,482.4 55.1,472.0 60.0,470.8 64.9,465.9 69.9,464.6 73.6,467.1 78.5,472.0 83.4,469.6 101.9,476.5 106.8,468.3 120.4,472.0 124.1,459.7 131.4,454.8 136.4,454.8 146.2,459.7 153.6,463.9 158.5,459.7 164.7,459.7 170.9,464.6 179.5,465.1 184.4,460.4 190.6,460.9 196.7,460.4 209.0,464.6 215.2,464.1 225.0,459.2 234.9,461.7 239.8,459.2 247.2,458.5 264.5,467.1 271.8,465.9 274.9,462.2 281.1,456.0 284.8,455.3 290.9,451.8 294.6,452.3 299.6,457.2 309.4,463.4 311.9,465.9 314.3,472.0 319.3,474.5 326.7,474.0 331.6,476.5 340.2,478.9 345.1,476.9 348.8,476.9 353.7,464.6 358.7,461.7 362.4,462.2 369.8,466.4 374.7,462.2 385.8,466.4 398.1,470.8 404.2,469.1 417.8,474.5 427.6,475.7 444.9,479.9 453.5,481.4 459.7,478.2 472.0,475.7 475.7,465.9 484.3,467.6 491.7,468.3 496.6,465.4 504.0,468.3 508.9,466.6 515.0,469.6 521.2,474.0 534.7,477.4 539.6,473.3 544.6,474.5 551.9,469.1 564.3,471.5 571.7,471.5 574.1,470.8 579.0,470.8 584.0,465.9 588.9,465.9 598.7,471.5 603.7,464.6 618.4,465.9 623.4,462.7 632.0,466.6 643.1,467.6 651.7,469.1 657.9,469.1 670.2,474.5 677.6,469.1 687.4,451.1 692.3,449.9 697.3,454.8 701.0,454.8 704.7,451.1 717.0,456.0 726.8,448.6 730.5,449.4 737.9,456.7 742.8,453.1 752.3,452.8 759.7,446.2 763.4,448.6 768.3,456.0 774.5,458.0 776.9,458.5 784.3,464.1 789.3,460.9 797.9,463.9 802.8,460.4 809.0,458.5 813.9,459.2 818.8,460.9 825.0,467.1 827.4,468.3 832.4,463.9 838.5,466.6 848.4,472.0 855.8,476.9 860.7,478.9 864.4,477.7 874.2,480.1 877.9,472.5 881.6,472.5 886.6,470.0 893.9,473.7 900.1,472.5 907.5,474.5 912.4,476.9 927.2,479.9 934.6,480.1 942.0,476.2 949.4,478.7" fill="none" stroke="#ff3a3a" stroke-width="1.2" stroke-linejoin="round" stroke-linecap="round" />
<polyline points="30.0,471.5 37.9,468.3 40.3,469.6 45.2,464.6 48.9,465.4 57.6,470.8 68.6,474.5 74.8,470.8 78.5,460.2 84.7,463.4 90.8,459.2 99.4,462.2 103.1,462.2 109.3,467.1 116.7,465.1 120.4,465.9 124.1,470.8 141.3,476.9 149.9,472.0 163.5,476.5 170.9,470.3 183.2,475.2 200.4,478.2 209.0,475.2 227.5,479.9 234.9,479.4 247.2,481.9 252.1,478.9 263.2,475.7 270.0,476.5 279.9,480.6 293.4,484.3 300.8,481.9 306.9,478.9 311.9,478.2 314.3,460.9 327.9,468.3 331.6,460.9 339.0,463.9 345.1,468.8 348.8,467.6 353.7,473.3 361.1,475.0 368.5,473.3 374.7,476.5 384.5,470.8 388.2,471.5 400.5,465.4 404.2,469.1 407.9,470.3 415.3,464.6 423.9,467.6 432.6,467.6 442.4,461.7 449.8,465.4 454.2,460.9 459.7,465.4 474.4,472.0 484.3,475.0 496.6,477.7 502.8,475.2 508.9,475.7 515.0,474.5 522.4,464.6 531.0,467.1 534.7,464.6 551.9,471.5 559.3,470.8 574.1,475.0 577.8,474.0 582.7,476.5 588.9,476.5 595.0,471.5 603.7,475.7 623.4,480.6 633.2,478.9 643.1,479.9 657.9,482.4 662.8,477.4 670.2,474.5 687.4,483.1 691.1,483.8 696.0,481.4 726.8,487.3 730.5,488.0 734.2,484.3 762.2,490.5 768.3,484.3 775.7,485.6 784.3,476.5 791.7,478.7 796.7,478.7 818.8,484.8 822.5,476.5 831.1,478.2 838.5,474.0 848.4,472.0 853.3,464.6 863.2,465.9 865.6,467.8 874.2,460.4 880.4,464.6 886.6,467.1 891.5,465.4 895.2,465.4 903.8,469.6 911.2,464.6 918.6,467.6 926.0,462.7 930.9,462.9 939.5,467.1 945.7,467.6 949.4,468.8" fill="none" stroke="#3a3aff" stroke-width="1.2" stroke-linejoin="round" stroke-linecap="round" />
<defs><clipPath id="cm"><rect x="940" y="21" width="40" height="274.6"/></clipPath><clipPath id="cmacd"><rect x="940" y="298.4" width="40" height="47.200000000000045"/></clipPath><clipPath id="crsi"><rect x="940" y="347.9" width="40" height="47.30000000000001"/></clipPath><clipPath id="cvol"><rect x="940" y="396.1" width="40" height="46.099999999999966"/></clipPath><clipPath id="cdmi"><rect x="940" y="443.1" width="40" height="46.89999999999998"/></clipPath></defs>
<line x1="954.3" y1="36.2" x2="957.4" y2="36.2" stroke="#888" stroke-width="0.9"/>
<line x1="954.3" y1="73.0" x2="957.4" y2="73.0" stroke="#888" stroke-width="0.9"/>
<line x1="954.3" y1="109.8" x2="957.4" y2="109.8" stroke="#888" stroke-width="0.9"/>
<line x1="954.3" y1="146.6" x2="957.4" y2="146.6" stroke="#888" stroke-width="0.9"/>
<line x1="954.3" y1="183.4" x2="957.4" y2="183.4" stroke="#888" stroke-width="0.9"/>
<line x1="954.3" y1="220.2" x2="957.4" y2="220.2" stroke="#888" stroke-width="0.9"/>
<line x1="954.3" y1="257.0" x2="957.4" y2="257.0" stroke="#888" stroke-width="0.9"/>
<line x1="954.3" y1="293.8" x2="957.4" y2="293.8" stroke="#888" stroke-width="0.9"/>
<line x1="955.6" y1="54.6" x2="957.4" y2="54.6" stroke="#888" stroke-width="0.9"/>
<line x1="955.6" y1="91.4" x2="957.4" y2="91.4" stroke="#888" stroke-width="0.9"/>
<line x1="955.6" y1="128.2" x2="957.4" y2="128.2" stroke="#888" stroke-width="0.9"/>
<line x1="955.6" y1="165.0" x2="957.4" y2="165.0" stroke="#888" stroke-width="0.9"/>
<line x1="955.6" y1="201.8" x2="957.4" y2="201.8" stroke="#888" stroke-width="0.9"/>
<line x1="955.6" y1="238.6" x2="957.4" y2="238.6" stroke="#888" stroke-width="0.9"/>
<line x1="955.6" y1="275.4" x2="957.4" y2="275.4" stroke="#888" stroke-width="0.9"/>
<g clip-path="url(#cm)"><text x="958.6" y="37.9" font-size="4.6" fill="#505050" textLength="12.9" lengthAdjust="spacingAndGlyphs">15000.</text><text x="958.6" y="74.7" font-size="4.6" fill="#505050" textLength="12.9" lengthAdjust="spacingAndGlyphs">14000.</text><text x="958.6" y="111.5" font-size="4.6" fill="#505050" textLength="12.9" lengthAdjust="spacingAndGlyphs">13000.</text><text x="958.6" y="148.3" font-size="4.6" fill="#505050" textLength="12.9" lengthAdjust="spacingAndGlyphs">12000.</text><text x="958.6" y="185.1" font-size="4.6" fill="#505050" textLength="12.9" lengthAdjust="spacingAndGlyphs">11000.</text><text x="958.6" y="221.9" font-size="4.6" fill="#505050" textLength="12.9" lengthAdjust="spacingAndGlyphs">10000.</text><text x="958.6" y="258.7" font-size="4.6" fill="#505050" textLength="10.8" lengthAdjust="spacingAndGlyphs">9000.</text><text x="958.6" y="295.5" font-size="4.6" fill="#505050" textLength="10.8" lengthAdjust="spacingAndGlyphs">8000.</text></g>
<line x1="954.3" y1="298.7" x2="957.4" y2="298.7" stroke="#888" stroke-width="0.9"/>
<line x1="954.3" y1="310.2" x2="957.4" y2="310.2" stroke="#888" stroke-width="0.9"/>
<line x1="954.3" y1="321.7" x2="957.4" y2="321.7" stroke="#888" stroke-width="0.9"/>
<line x1="954.3" y1="333.5" x2="957.4" y2="333.5" stroke="#888" stroke-width="0.9"/>
<line x1="954.3" y1="345.0" x2="957.4" y2="345.0" stroke="#888" stroke-width="0.9"/>
<line x1="955.6" y1="304.4" x2="957.4" y2="304.4" stroke="#888" stroke-width="0.9"/>
<line x1="955.6" y1="315.9" x2="957.4" y2="315.9" stroke="#888" stroke-width="0.9"/>
<line x1="955.6" y1="327.4" x2="957.4" y2="327.4" stroke="#888" stroke-width="0.9"/>
<line x1="955.6" y1="339.3" x2="957.4" y2="339.3" stroke="#888" stroke-width="0.9"/>
<g clip-path="url(#cmacd)"><text x="958.6" y="300.4" font-size="4.6" fill="#505050" textLength="8.6" lengthAdjust="spacingAndGlyphs">600.</text><text x="958.6" y="311.9" font-size="4.6" fill="#505050" textLength="8.6" lengthAdjust="spacingAndGlyphs">400.</text><text x="958.6" y="323.4" font-size="4.6" fill="#505050" textLength="8.6" lengthAdjust="spacingAndGlyphs">200.</text><text x="958.6" y="335.2" font-size="4.6" fill="#505050" textLength="2.1" lengthAdjust="spacingAndGlyphs">0</text><text x="958.6" y="346.7" font-size="4.6" fill="#505050" textLength="10.8" lengthAdjust="spacingAndGlyphs">-200.</text></g>
<line x1="954.3" y1="356.8" x2="957.4" y2="356.8" stroke="#888" stroke-width="0.9"/>
<line x1="954.3" y1="371.1" x2="957.4" y2="371.1" stroke="#888" stroke-width="0.9"/>
<line x1="954.3" y1="385.1" x2="957.4" y2="385.1" stroke="#888" stroke-width="0.9"/>
<line x1="955.6" y1="349.7" x2="957.4" y2="349.7" stroke="#888" stroke-width="0.9"/>
<line x1="955.6" y1="364.0" x2="957.4" y2="364.0" stroke="#888" stroke-width="0.9"/>
<line x1="955.6" y1="378.1" x2="957.4" y2="378.1" stroke="#888" stroke-width="0.9"/>
<line x1="955.6" y1="392.3" x2="957.4" y2="392.3" stroke="#888" stroke-width="0.9"/>
<g clip-path="url(#crsi)"><text x="958.6" y="358.5" font-size="4.6" fill="#505050" textLength="6.4" lengthAdjust="spacingAndGlyphs">80.</text><text x="958.6" y="372.8" font-size="4.6" fill="#505050" textLength="6.4" lengthAdjust="spacingAndGlyphs">60.</text><text x="958.6" y="386.8" font-size="4.6" fill="#505050" textLength="6.4" lengthAdjust="spacingAndGlyphs">40.</text></g>
<line x1="954.3" y1="399.0" x2="957.4" y2="399.0" stroke="#888" stroke-width="0.9"/>
<line x1="954.3" y1="412.9" x2="957.4" y2="412.9" stroke="#888" stroke-width="0.9"/>
<line x1="954.3" y1="426.6" x2="957.4" y2="426.6" stroke="#888" stroke-width="0.9"/>
<line x1="954.3" y1="440.3" x2="957.4" y2="440.3" stroke="#888" stroke-width="0.9"/>
<line x1="955.6" y1="405.9" x2="957.4" y2="405.9" stroke="#888" stroke-width="0.9"/>
<line x1="955.6" y1="419.8" x2="957.4" y2="419.8" stroke="#888" stroke-width="0.9"/>
<line x1="955.6" y1="433.4" x2="957.4" y2="433.4" stroke="#888" stroke-width="0.9"/>
<g clip-path="url(#cvol)"><text x="958.6" y="400.7" font-size="4.6" fill="#505050" textLength="15.0" lengthAdjust="spacingAndGlyphs">300. Mr</text><text x="958.6" y="414.6" font-size="4.6" fill="#505050" textLength="15.0" lengthAdjust="spacingAndGlyphs">200. Mr</text><text x="958.6" y="428.3" font-size="4.6" fill="#505050" textLength="15.0" lengthAdjust="spacingAndGlyphs">100. Mr</text><text x="958.6" y="442.0" font-size="4.6" fill="#505050" textLength="2.1" lengthAdjust="spacingAndGlyphs">0</text></g>
<line x1="954.3" y1="448.6" x2="957.4" y2="448.6" stroke="#888" stroke-width="0.9"/>
<line x1="954.3" y1="458.1" x2="957.4" y2="458.1" stroke="#888" stroke-width="0.9"/>
<line x1="954.3" y1="467.6" x2="957.4" y2="467.6" stroke="#888" stroke-width="0.9"/>
<line x1="954.3" y1="477.0" x2="957.4" y2="477.0" stroke="#888" stroke-width="0.9"/>
<line x1="954.3" y1="486.4" x2="957.4" y2="486.4" stroke="#888" stroke-width="0.9"/>
<line x1="955.6" y1="453.3" x2="957.4" y2="453.3" stroke="#888" stroke-width="0.9"/>
<line x1="955.6" y1="462.8" x2="957.4" y2="462.8" stroke="#888" stroke-width="0.9"/>
<line x1="955.6" y1="472.3" x2="957.4" y2="472.3" stroke="#888" stroke-width="0.9"/>
<line x1="955.6" y1="481.7" x2="957.4" y2="481.7" stroke="#888" stroke-width="0.9"/>
<g clip-path="url(#cdmi)"><text x="958.6" y="450.3" font-size="4.6" fill="#505050" textLength="6.4" lengthAdjust="spacingAndGlyphs">50.</text><text x="958.6" y="459.8" font-size="4.6" fill="#505050" textLength="6.4" lengthAdjust="spacingAndGlyphs">40.</text><text x="958.6" y="469.3" font-size="4.6" fill="#505050" textLength="6.4" lengthAdjust="spacingAndGlyphs">30.</text><text x="958.6" y="478.7" font-size="4.6" fill="#505050" textLength="6.4" lengthAdjust="spacingAndGlyphs">20.</text><text x="958.6" y="488.1" font-size="4.6" fill="#505050" textLength="6.4" lengthAdjust="spacingAndGlyphs">10.</text></g>
</svg></body></html>
